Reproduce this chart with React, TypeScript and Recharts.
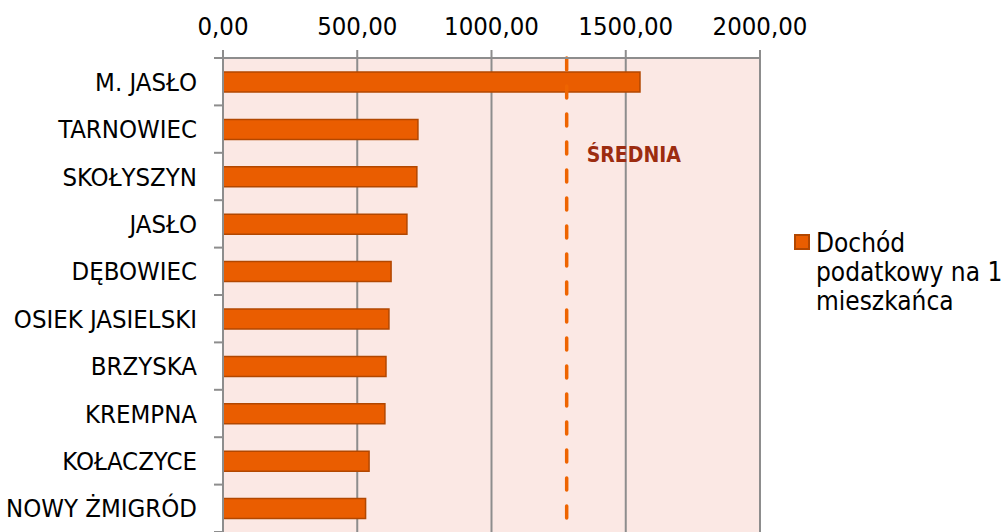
import {
  BarChart,
  Bar,
  XAxis,
  YAxis,
  CartesianGrid,
  ReferenceLine,
  Legend,
} from "recharts";

const categories = [
  "M. JASŁO",
  "TARNOWIEC",
  "SKOŁYSZYN",
  "JASŁO",
  "DĘBOWIEC",
  "OSIEK JASIELSKI",
  "BRZYSKA",
  "KREMPNA",
  "KOŁACZYCE",
  "NOWY ŻMIGRÓD",
];
const incomePerResident = [1553, 726, 722, 685, 626, 618, 607, 603, 544, 531];
const averageIncome = 1280;
const xTicks = [0, 500, 1000, 1500, 2000];
const seriesName = "Dochód podatkowy na 1 mieszkańca";
const legendLines = ["Dochód", "podatkowy na 1", "mieszkańca"];

const FONT = '"DejaVu Sans Condensed", "DejaVu Sans", sans-serif';
const GRID = "#8d8d8d";
const BAR = "#ea5d00";
const BAR_EDGE = "#b24700";

const W = 1005;
const H = 532;
const PLOT_TOP = 58;
const band = (H - PLOT_TOP) / categories.length;

const data = categories.map((name, i) => ({ name, value: incomePerResident[i] }));

// "500,00" style
const fmt = (v: number) => v.toFixed(2).replace(".", ",");

function CategoryTick(props: any) {
  const { x, y, payload, index } = props;
  const axisX = x + 26;
  const last = index === categories.length - 1;
  return (
    <g>
      <line x1={axisX - 9} x2={axisX} y1={y - band / 2} y2={y - band / 2} stroke={GRID} strokeWidth={2} />
      {last && (
        <line x1={axisX - 9} x2={axisX} y1={y + band / 2} y2={y + band / 2} stroke={GRID} strokeWidth={2} />
      )}
      <text x={x} y={y} dy="0.36em" textAnchor="end" fill="#000" fontSize={25.5} fontFamily={FONT}>
        {payload.value}
      </text>
    </g>
  );
}

function AvgLabel(props: any) {
  const vb = props.viewBox || {};
  return (
    <text
      x={vb.x + 20}
      y={vb.y + 104}
      fill="#9c2c10"
      fontSize={21}
      fontWeight="bold"
      fontFamily={FONT}
    >
      ŚREDNIA
    </text>
  );
}

function LegendBox() {
  return (
    <div style={{ position: "relative", fontFamily: FONT, fontSize: 26, color: "#000" }}>
      <div
        style={{
          position: "absolute",
          left: 0,
          top: 5,
          width: 12,
          height: 12,
          background: BAR,
          border: `2px solid ${BAR_EDGE}`,
        }}
      />
      <div style={{ paddingLeft: 22 }}>
        {legendLines.map((l) => (
          <div key={l} style={{ lineHeight: "29px", whiteSpace: "nowrap" }}>
            {l}
          </div>
        ))}
      </div>
    </div>
  );
}

export default function App() {
  return (
    <div style={{ position: "absolute", left: 0, top: 0, width: W, height: H, background: "#fff" }}>
      <BarChart
        width={W}
        height={H}
        data={data}
        layout="vertical"
        margin={{ top: 0, right: 245, bottom: 0, left: 0 }}
        style={{ fontFamily: FONT }}
      >
        <CartesianGrid horizontal={false} stroke={GRID} strokeWidth={2} fill="#fbe8e4" />
        <XAxis
          type="number"
          orientation="top"
          domain={[0, 2000]}
          ticks={xTicks}
          height={PLOT_TOP}
          tickFormatter={fmt}
          tickSize={8}
          tickMargin={15}
          axisLine={{ stroke: GRID, strokeWidth: 2 }}
          tickLine={{ stroke: GRID, strokeWidth: 2 }}
          tick={{ fill: "#000", fontSize: 25.5, fontFamily: FONT }}
        />
        <YAxis
          type="category"
          dataKey="name"
          width={223}
          interval={0}
          tickSize={9}
          tickMargin={17}
          tickLine={false}
          axisLine={{ stroke: GRID, strokeWidth: 2 }}
          tick={<CategoryTick />}
        />
        <Bar
          dataKey="value"
          name={seriesName}
          fill={BAR}
          stroke={BAR_EDGE}
          strokeWidth={1.5}
          barSize={20}
          isAnimationActive={false}
        />
        <ReferenceLine
          x={averageIncome}
          stroke="#ee6400"
          strokeWidth={3.5}
          strokeDasharray="12 16"
          strokeLinecap="round"
          label={<AvgLabel />}
        />
        <Legend
          layout="horizontal"
          verticalAlign="middle"
          align="center"
          wrapperStyle={{ left: 794, top: 229, width: 211 }}
          content={() => <LegendBox />}
        />
      </BarChart>
    </div>
  );
}
